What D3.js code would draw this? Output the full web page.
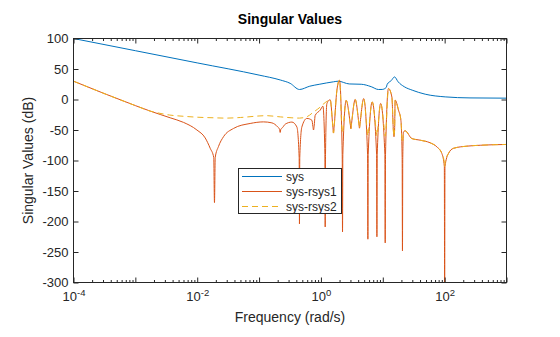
<!DOCTYPE html>
<html>
<head>
<meta charset="utf-8">
<script src="https://cdn.jsdelivr.net/npm/d3@7"></script>
<style>
  html, body { margin: 0; padding: 0; background: #fff; }
  svg { display: block; font-family: "Liberation Sans", Arial, sans-serif; }
</style>
</head>
<body>
<svg id="chart" width="560" height="337"></svg>
<script>
// Singular value responses (frequency in rad/s, magnitude in dB)
const sysFreq = [1e-4, 1e-3, 1e-2, 0.1, 0.22, 0.318, 0.45, 0.66, 0.96, 1.6, 1.9, 2.87, 4.48, 6.5, 8.5, 9.8, 11.35, 11.8, 13.7, 15.5, 17.7, 22.2, 29.9, 48.5, 102, 257, 1000];
const sysDb   = [100, 80, 60, 40, 32, 26.5, 16.4, 21.8, 25.1, 29, 30, 25.5, 25, 21, 16.4, 16.5, 19.7, 25, 31, 37, 29, 21, 15.3, 8.7, 4.3, 2.6, 2.2];

const err1Freq = [1e-4, 1e-3, 0.001738, 0.003656, 0.006, 0.00989, 0.01346, 0.01622, 0.0185, 0.01901, 0.01955, 0.02208, 0.02661, 0.03855, 0.07178, 0.1178, 0.1611, 0.2, 0.2148, 0.2193, 0.2244, 0.24, 0.2642, 0.3396, 0.4083, 0.4447, 0.4498, 0.455, 0.492, 0.5929, 0.7145, 0.7413, 0.7586, 0.7763, 0.8072, 0.9727, 1.076, 1.159, 1.172, 1.186, 1.247, 1.358, 1.413, 1.56, 1.596, 1.633, 1.811, 1.995, 2.208, 2.234, 2.26, 2.559, 2.979, 3.048, 3.119, 3.581, 4.103, 4.198, 4.296, 4.909, 5.675, 5.741, 5.808, 6.745, 7.943, 8.035, 8.128, 9.247, 10.81, 10.94, 11.07, 12.36, 14.03, 14.82, 15.17, 15.52, 15.85, 17.95, 19.63, 20.56, 20.8, 21.04, 21.63, 23.01, 29.51, 40.18, 58.34, 74.99, 90.16, 98.86, 100, 101.2, 115.3, 139, 229.1, 375.8, 1000];
const err1Db   = [30, -10, -19, -30, -37.5, -50, -63, -80, -95, -169, -95, -77, -61, -47.5, -39.3, -36.7, -38.3, -45, -49, -54, -49, -46, -40.5, -37, -45, -95, -204, -95, -45, -31, -34, -44, -50, -44, -26, -17.5, -11, -90, -209, -90, -7, -1, -0.5, -45, -55, -45, 15, 31.5, -90, -217, -90, -1.5, -40, -48, -40, 0, -39, -47, -39, 1.5, -90, -229, -90, -4, -90, -225, -90, -6.5, -90, -235, -90, 18, 4, -50, -61, -50, -1, -17.5, -34, -95, -248, -95, -53, -51.4, -64, -66.7, -71, -77.7, -88.5, -110, -330, -110, -88.5, -80, -76.5, -75, -73.7];

const err2Freq = [1e-4, 1e-3, 0.001738, 0.0022, 0.0036, 0.006, 0.0099, 0.0187, 0.0292, 0.05, 0.1, 0.13, 0.22, 0.34, 0.45, 0.6, 0.75, 0.97, 1.08, 1.172, 1.247, 1.358, 1.413, 1.56, 1.596, 1.633, 1.811, 1.995, 2.183, 2.234, 2.286, 2.559, 2.979, 3.048, 3.119, 3.581, 4.103, 4.198, 4.296, 4.909, 5.61, 5.741, 5.875, 6.745, 7.852, 8.035, 8.222, 9.247, 10.69, 10.94, 11.2, 12.36, 14.03, 14.82, 15.17, 15.52, 15.85, 17.95, 19.63, 20.33, 20.8, 21.28, 21.63, 23.01, 29.51, 40.18, 58.34, 74.99, 90.16, 97.72, 100, 102.3, 115.3, 139, 229.1, 375.8, 1000];
const err2Db   = [30, -10, -19, -21.5, -25.5, -27.5, -29, -30, -30.5, -29.5, -27, -26.5, -28.5, -30, -30.5, -28, -21, -12.5, -8, -5, -3, -1, -0.5, -45, -55, -45, 15, 31.5, -47, -55, -47, -1.5, -40, -48, -40, 0, -39, -47, -39, 1.5, -52, -60, -52, -4, -52, -60, -52, -6.5, -52, -60, -52, 18, 4, -50, -61, -50, -1, -17.5, -34, -62, -70, -62, -53, -51.4, -64, -66.7, -71, -77.7, -88.5, -100, -110, -100, -88.5, -80, -76.5, -75, -73.7];

const xTickValues = [1e-4, 1e-3, 1e-2, 1e-1, 1e0, 1e1, 1e2, 1e3];
const xTickLabels = ["10|-4", "", "10|-2", "", "10|0", "", "10|2", ""];
const yTickValues = [-300, -250, -200, -150, -100, -50, 0, 50, 100];

const seriesNames = ["sys", "sys-rsys1", "sys-rsys2"];
const seriesColors = ["#0072BD", "#D95319", "#EDB120"];

const svg = d3.select("#chart");
const L = 73.5, R = 506.5, T = 38.5, B = 282.5;
const ink = "#262626";

const x = d3.scaleLog().domain([1e-4, 1e3]).range([L, R]);
const y = d3.scaleLinear().domain([-300, 100]).range([B, T]);

svg.append("defs").append("clipPath").attr("id", "plotclip")
  .append("rect").attr("x", L).attr("y", T).attr("width", R - L).attr("height", B - T);

// minor decade ticks 2..9
const minor = [];
for (let e = -4; e < 3; e++) for (let m = 2; m <= 9; m++) minor.push(m * Math.pow(10, e));

// response curves
const series = [
  { f: sysFreq, v: sysDb, dash: null },
  { f: err1Freq, v: err1Db, dash: null },
  { f: err2Freq, v: err2Db, dash: "6,4" }
];
const line = d3.line()
  .x(d => x(d[0]))
  .y(d => y(d[1]))
  .curve(d3.curveMonotoneX);

const plot = svg.append("g").attr("clip-path", "url(#plotclip)");
series.forEach((s, i) => {
  plot.append("path")
    .datum(s.f.map((f, k) => [f, s.v[k]]))
    .attr("d", line)
    .attr("fill", "none")
    .attr("stroke", seriesColors[i])
    .attr("stroke-width", 1)
    .attr("stroke-dasharray", s.dash);
});

// axes (ticks point inward)
function styleAxis(g) {
  g.selectAll(".domain").remove();
  g.selectAll("line").attr("stroke", ink).attr("stroke-width", 1);
  g.selectAll("text").attr("fill", ink);
}

const xb = svg.append("g").attr("transform", `translate(0,${B})`)
  .call(d3.axisBottom(x).tickValues(xTickValues).tickSizeInner(-5).tickSizeOuter(0).tickPadding(9).tickFormat(""))
  .call(styleAxis);
xb.selectAll(".tick text").each(function(d, i) {
  const lab = xTickLabels[i];
  const t = d3.select(this).attr("font-size", 13).text(null);
  if (!lab) return;
  const [base, sup] = lab.split("|");
  t.append("tspan").text(base);
  t.append("tspan").attr("font-size", 9.5).attr("dy", "-0.45em").text(sup);
});
svg.append("g").attr("transform", `translate(0,${B})`)
  .call(d3.axisBottom(x).tickValues(minor).tickSizeInner(-2.5).tickSizeOuter(0).tickFormat(""))
  .call(styleAxis);

svg.append("g").attr("transform", `translate(0,${T})`)
  .call(d3.axisTop(x).tickValues(xTickValues).tickSizeInner(-5).tickSizeOuter(0).tickFormat(""))
  .call(styleAxis);
svg.append("g").attr("transform", `translate(0,${T})`)
  .call(d3.axisTop(x).tickValues(minor).tickSizeInner(-2.5).tickSizeOuter(0).tickFormat(""))
  .call(styleAxis);

svg.append("g").attr("transform", `translate(${L},0)`)
  .call(d3.axisLeft(y).tickValues(yTickValues).tickSizeInner(-5).tickSizeOuter(0).tickPadding(5).tickFormat(d => String(d)))
  .call(styleAxis)
  .selectAll("text").attr("font-size", 13).attr("font-family", "Liberation Sans, Arial, sans-serif");

svg.append("g").attr("transform", `translate(${R},0)`)
  .call(d3.axisRight(y).tickValues(yTickValues).tickSizeInner(-5).tickSizeOuter(0).tickFormat(""))
  .call(styleAxis);

// frame
svg.append("rect").attr("x", L).attr("y", T).attr("width", R - L).attr("height", B - T)
  .attr("fill", "none").attr("stroke", ink).attr("stroke-width", 1);

// titles
svg.append("text").attr("x", (L + R) / 2).attr("y", 24).attr("text-anchor", "middle")
  .attr("font-size", 14).attr("font-weight", "bold").attr("fill", "#000").text("Singular Values");
svg.append("text").attr("x", (L + R) / 2).attr("y", 322).attr("text-anchor", "middle")
  .attr("font-size", 14).attr("fill", ink).text("Frequency (rad/s)");
svg.append("text").attr("transform", `translate(33,${(T + B) / 2}) rotate(-90)`).attr("text-anchor", "middle")
  .attr("font-size", 14).attr("fill", ink).text("Singular Values (dB)");

// legend
const lg = svg.append("g");
lg.append("rect").attr("x", 238.5).attr("y", 168.5).attr("width", 103).attr("height", 45)
  .attr("fill", "#fff").attr("stroke", ink).attr("stroke-width", 1);
seriesNames.forEach((name, i) => {
  const yy = 176 + i * 15;
  lg.append("line").attr("x1", 242).attr("x2", 282).attr("y1", yy + 0.5).attr("y2", yy + 0.5)
    .attr("stroke", seriesColors[i]).attr("stroke-width", 1)
    .attr("stroke-dasharray", series[i].dash);
  lg.append("text").attr("x", 286).attr("y", yy + 4.5).attr("font-size", 12).attr("fill", ink).text(name);
});
</script>
</body>
</html>
